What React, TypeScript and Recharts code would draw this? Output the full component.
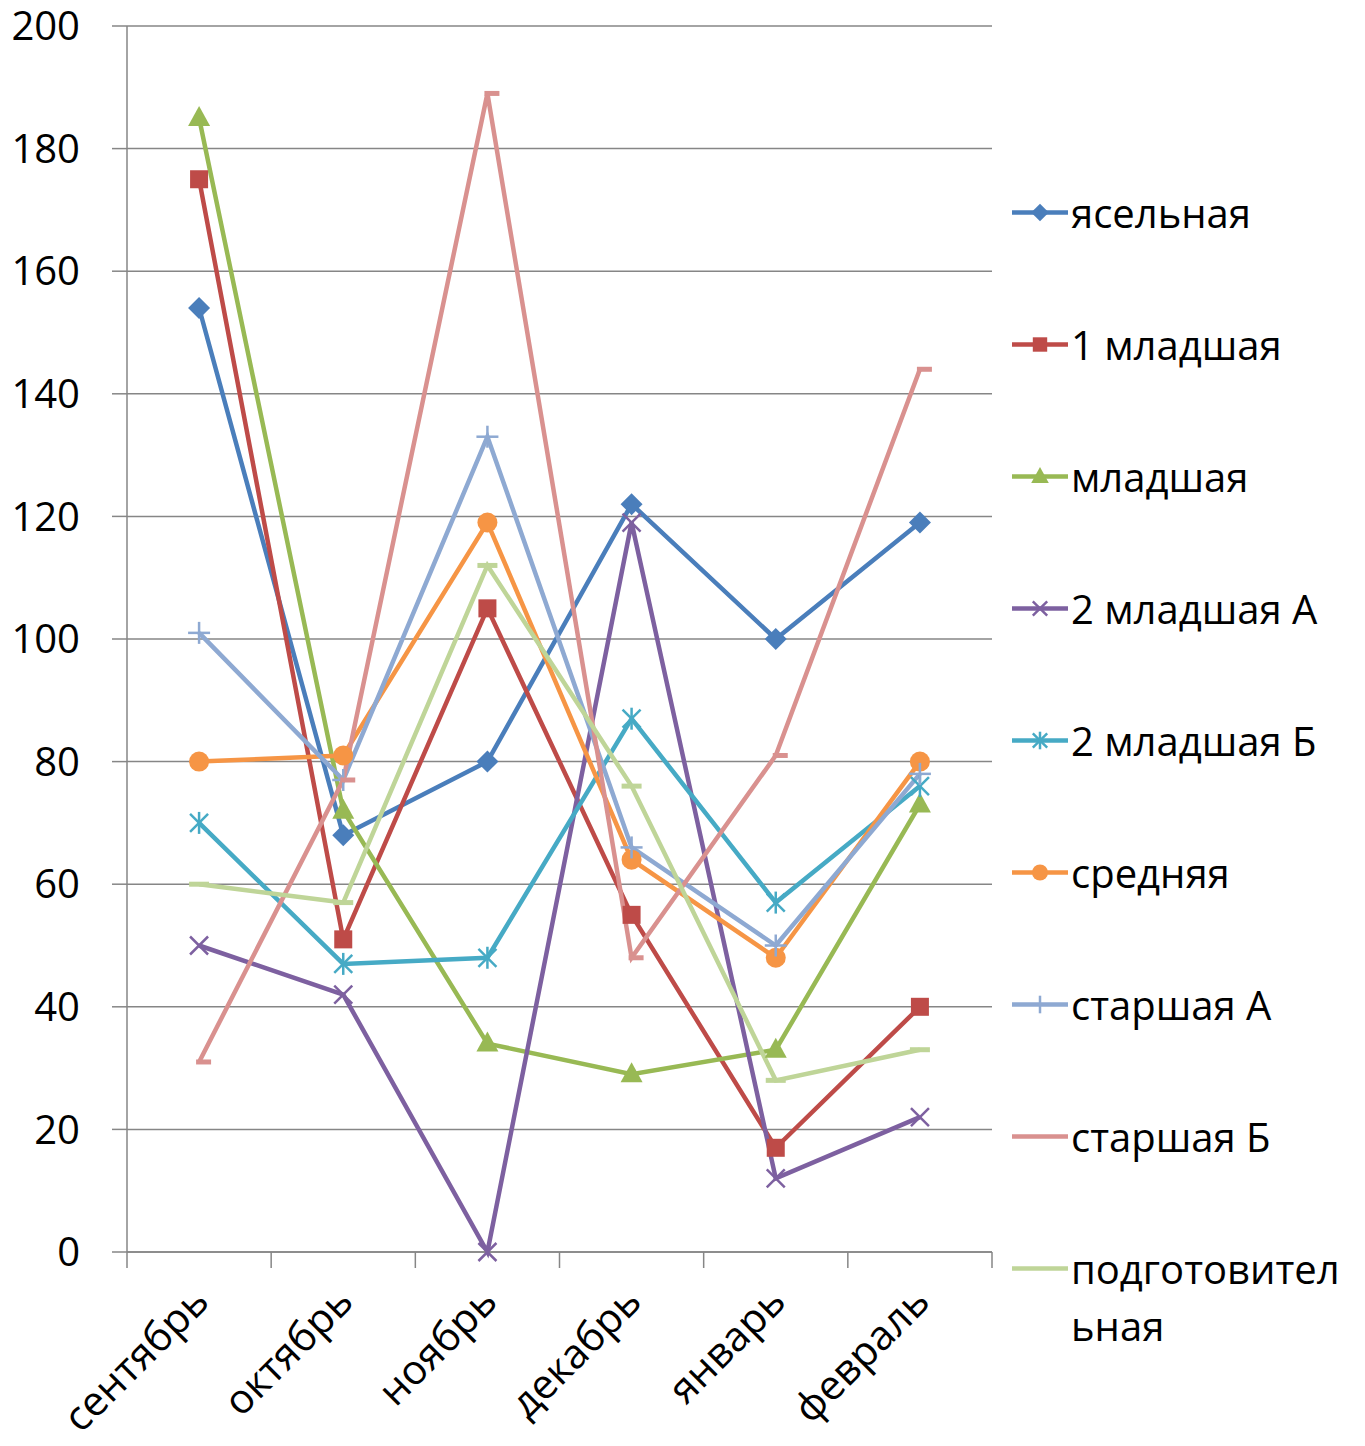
import { LineChart, Line, XAxis, YAxis, CartesianGrid, Legend } from 'recharts';

const months = ['сентябрь', 'октябрь', 'ноябрь', 'декабрь', 'январь', 'февраль'];
const yTicks = [0, 20, 40, 60, 80, 100, 120, 140, 160, 180, 200];

const yaselnaya = [154, 68, 80, 122, 100, 119];
const mladshaya1 = [175, 51, 105, 55, 17, 40];
const mladshaya = [185, 72, 34, 29, 33, 73];
const mladshaya2A = [50, 42, 0, 119, 12, 22];
const mladshaya2B = [70, 47, 48, 87, 57, 76];
const srednyaya = [80, 81, 119, 64, 48, 80];
const starshayaA = [101, 77, 133, 66, 50, 78];
const starshayaB = [31, 77, 189, 48, 81, 144];
const podgotovitelnaya = [60, 57, 112, 76, 28, 33];

const series = [
	{ key: 'ясельная', values: yaselnaya, color: '#4A7EBB', marker: 'diamond' },
	{ key: '1 младшая', values: mladshaya1, color: '#BE4B48', marker: 'square' },
	{ key: 'младшая', values: mladshaya, color: '#98B954', marker: 'triangle' },
	{ key: '2 младшая А', values: mladshaya2A, color: '#7D60A0', marker: 'x' },
	{ key: '2 младшая Б', values: mladshaya2B, color: '#46AAC5', marker: 'star' },
	{ key: 'средняя', values: srednyaya, color: '#F69545', marker: 'circle' },
	{ key: 'старшая А', values: starshayaA, color: '#8EA9D2', marker: 'plus' },
	{ key: 'старшая Б', values: starshayaB, color: '#D9918F', marker: 'dashRight' },
	{ key: 'подготовительная', values: podgotovitelnaya, color: '#BFD598', marker: 'dash' },
];

const data = months.map((m, i) => {
	const row: Record<string, string | number> = { month: m };
	series.forEach((s) => {
		row[s.key] = s.values[i];
	});
	return row;
});

const FONT = '"Open Sans", sans-serif';
const AXIS = '#868686';

const drawMarker = (marker: string, cx: number, cy: number, color: string, small = false) => {
	const k = small ? 0.8 : 1;
	switch (marker) {
		case 'diamond':
			return (
				<polygon
					points={`${cx},${cy - 11 * k} ${cx + 11 * k},${cy} ${cx},${cy + 11 * k} ${cx - 11 * k},${cy}`}
					fill={color}
				/>
			);
		case 'square':
			return <rect x={cx - 9 * k} y={cy - 9 * k} width={18 * k} height={18 * k} fill={color} />;
		case 'triangle':
			return (
				<polygon
					points={`${cx},${cy - 12 * k} ${cx + 11 * k},${cy + 8 * k} ${cx - 11 * k},${cy + 8 * k}`}
					fill={color}
				/>
			);
		case 'x':
			return (
				<g stroke={color} strokeWidth={2.5}>
					<line x1={cx - 9 * k} y1={cy - 9 * k} x2={cx + 9 * k} y2={cy + 9 * k} />
					<line x1={cx - 9 * k} y1={cy + 9 * k} x2={cx + 9 * k} y2={cy - 9 * k} />
				</g>
			);
		case 'star':
			return (
				<g stroke={color} strokeWidth={2.5}>
					<line x1={cx - 9 * k} y1={cy - 9 * k} x2={cx + 9 * k} y2={cy + 9 * k} />
					<line x1={cx - 9 * k} y1={cy + 9 * k} x2={cx + 9 * k} y2={cy - 9 * k} />
					<line x1={cx} y1={cy - 11 * k} x2={cx} y2={cy + 11 * k} />
				</g>
			);
		case 'circle':
			return <circle cx={cx} cy={cy} r={10 * k} fill={color} />;
		case 'plus':
			return (
				<g stroke={color} strokeWidth={2.5}>
					<line x1={cx - 11 * k} y1={cy} x2={cx + 11 * k} y2={cy} />
					<line x1={cx} y1={cy - 11 * k} x2={cx} y2={cy + 11 * k} />
				</g>
			);
		case 'dashRight':
			return small ? null : <line x1={cx - 3} y1={cy} x2={cx + 12} y2={cy} stroke={color} strokeWidth={5} />;
		case 'dash':
			return small ? null : <line x1={cx - 10} y1={cy} x2={cx + 10} y2={cy} stroke={color} strokeWidth={5} />;
		default:
			return null;
	}
};

const MonthTick = (props: any) => {
	const { x, y, payload, index, visibleTicksCount } = props;
	const half = payload.offset || 0;
	const last = index === visibleTicksCount - 1;
	return (
		<g>
			<line x1={x - half} y1={y} x2={x - half} y2={y + 16} stroke={AXIS} strokeWidth={1.5} />
			{last && <line x1={x + half} y1={y} x2={x + half} y2={y + 16} stroke={AXIS} strokeWidth={1.5} />}
			<text
				x={x + 12}
				y={y + 52}
				textAnchor='end'
				transform={`rotate(-45, ${x + 12}, ${y + 52})`}
				fontFamily={FONT}
				fontSize={41}
				fill='#000'>
				{payload.value}
			</text>
		</g>
	);
};

const LegendBox = () => {
	return (
		<div style={{ fontFamily: FONT, fontSize: 40, color: '#000' }}>
			{series.map((s) => (
				<div key={s.key} style={{ display: 'flex', alignItems: 'flex-start', marginBottom: 75 }}>
					<svg width={56} height={57} style={{ flex: 'none' }}>
						<line x1={0} y1={28.5} x2={56} y2={28.5} stroke={s.color} strokeWidth={4.5} />
						{drawMarker(s.marker, 28, 28.5, s.color, true)}
					</svg>
					<div style={{ marginLeft: 3, lineHeight: '57px', width: 282, wordBreak: 'break-all' }}>{s.key}</div>
				</div>
			))}
		</div>
	);
};

const App = () => {
	return (
		<div style={{ margin: -8 }}>
			<LineChart width={1365} height={1446} data={data} margin={{ top: 26, right: 373, bottom: 0, left: 0 }}>
				<CartesianGrid vertical={false} stroke={AXIS} strokeWidth={1.5} />
				<XAxis
					dataKey='month'
					scale='band'
					height={194}
					axisLine={{ stroke: AXIS, strokeWidth: 1.5 }}
					tickLine={false}
					tickSize={0}
					tickMargin={0}
					interval={0}
					tick={<MonthTick />}
				/>
				<YAxis
					width={127}
					domain={[0, 200]}
					ticks={yTicks}
					interval={0}
					tickSize={15}
					tickMargin={32}
					axisLine={{ stroke: AXIS, strokeWidth: 1.5 }}
					tickLine={{ stroke: AXIS, strokeWidth: 1.5 }}
					tick={{ fontFamily: FONT, fontSize: 40, fill: '#000' }}
				/>
				<Legend
					layout='vertical'
					align='center'
					verticalAlign='middle'
					content={<LegendBox />}
					wrapperStyle={{ left: 1012, top: 184, width: 353, height: 'auto' }}
				/>
				{series.map((s) => (
					<Line
						key={s.key}
						dataKey={s.key}
						stroke={s.color}
						strokeWidth={4.5}
						isAnimationActive={false}
						dot={(p: any) => <g key={`${s.key}-${p.index}`}>{drawMarker(s.marker, p.cx, p.cy, s.color)}</g>}
						activeDot={false}
					/>
				))}
			</LineChart>
		</div>
	);
};

export default App;
